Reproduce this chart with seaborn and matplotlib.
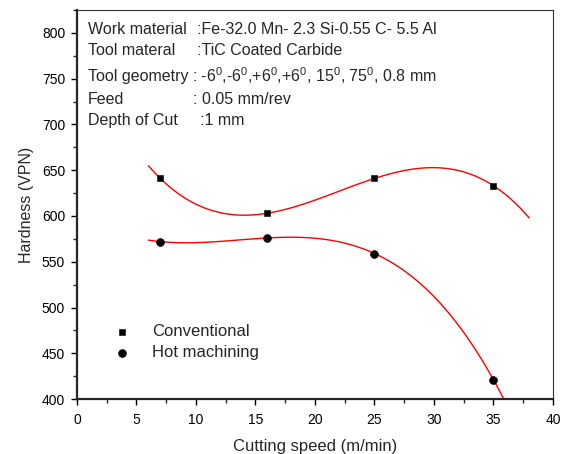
import numpy as np
import pandas as pd
import matplotlib
matplotlib.use('Agg')
import matplotlib.pyplot as plt
import seaborn as sns
from matplotlib.ticker import MultipleLocator

# Measured hardness vs cutting speed
speed = [7, 16, 25, 35]
conventional = [641, 603, 641, 633]
hot_machining = [572, 576, 559, 421]

info_labels = ['Work material', 'Tool materal', 'Tool geometry', 'Feed', 'Depth of Cut']
info_values = [':Fe-32.0 Mn- 2.3 Si-0.55 C- 5.5 Al',
               ':TiC Coated Carbide',
               ': -6$^0$,-6$^0$,+6$^0$,+6$^0$, 15$^0$, 75$^0$, 0.8 mm',
               ': 0.05 mm/rev',
               ':1 mm']

sns.set_style('ticks')
plt.rcParams['font.family'] = ['Liberation Sans', 'DejaVu Sans']
plt.rcParams['mathtext.fontset'] = 'custom'
plt.rcParams['mathtext.rm'] = 'Liberation Sans'
plt.rcParams['mathtext.default'] = 'regular'

df = pd.DataFrame({'speed': speed, 'Conventional': conventional, 'Hot machining': hot_machining})

fig = plt.figure(figsize=(5.66, 4.54), dpi=100)
ax = fig.add_axes([0.136, 0.121, 0.841, 0.857])

# polynomial fit lines, drawn over 6-38 m/min like the original
ax.set_xlim(6, 38)
for col in ['Conventional', 'Hot machining']:
    sns.regplot(data=df, x='speed', y=col, order=3, ci=None, scatter=False,
                truncate=False, color='red', line_kws={'lw': 1}, ax=ax)

sns.scatterplot(data=df, x='speed', y='Conventional', marker='s', s=24, color='black',
                edgecolor='black', label='Conventional', ax=ax, zorder=3)
sns.scatterplot(data=df, x='speed', y='Hot machining', marker='o', s=32, color='black',
                edgecolor='black', label='Hot machining', ax=ax, zorder=3)

ax.set_xlim(0, 40)
ax.set_ylim(400, 825)
ax.xaxis.set_major_locator(MultipleLocator(5))
ax.xaxis.set_minor_locator(MultipleLocator(2.5))
ax.set_yticks([400, 450, 500, 550, 600, 650, 700, 750, 800])
ax.yaxis.set_minor_locator(MultipleLocator(25))
ax.tick_params(which='major', direction='out', length=4.5, width=1, labelsize=10,
               colors='black', pad=4)
ax.tick_params(axis='x', which='major', pad=5.5)
ax.tick_params(which='minor', direction='out', length=3, width=1)

for s in ['left', 'bottom']:
    ax.spines[s].set_linewidth(1.6)
for s in ['top', 'right']:
    ax.spines[s].set_linewidth(0.8)
    ax.spines[s].set_color('#333333')

ax.set_xlabel('Cutting speed (m/min)', fontsize=12, labelpad=9)
ax.set_ylabel('Hardness (VPN)', fontsize=11.5, labelpad=6)

ax.legend(loc='lower left', bbox_to_anchor=(0.029, 0.061), frameon=False, fontsize=12,
          handletextpad=0.8, labelspacing=0.38)

ys = [0.949, 0.897, 0.830, 0.771, 0.717]
xs_val = [0.252, 0.252, 0.242, 0.244, 0.258]
for lab, val, y, xv in zip(info_labels, info_values, ys, xs_val):
    ax.text(0.023, y, lab, transform=ax.transAxes, fontsize=11.5, va='center')
    ax.text(xv, y, val, transform=ax.transAxes, fontsize=11.5, va='center')

plt.savefig('out.png', dpi=100)
